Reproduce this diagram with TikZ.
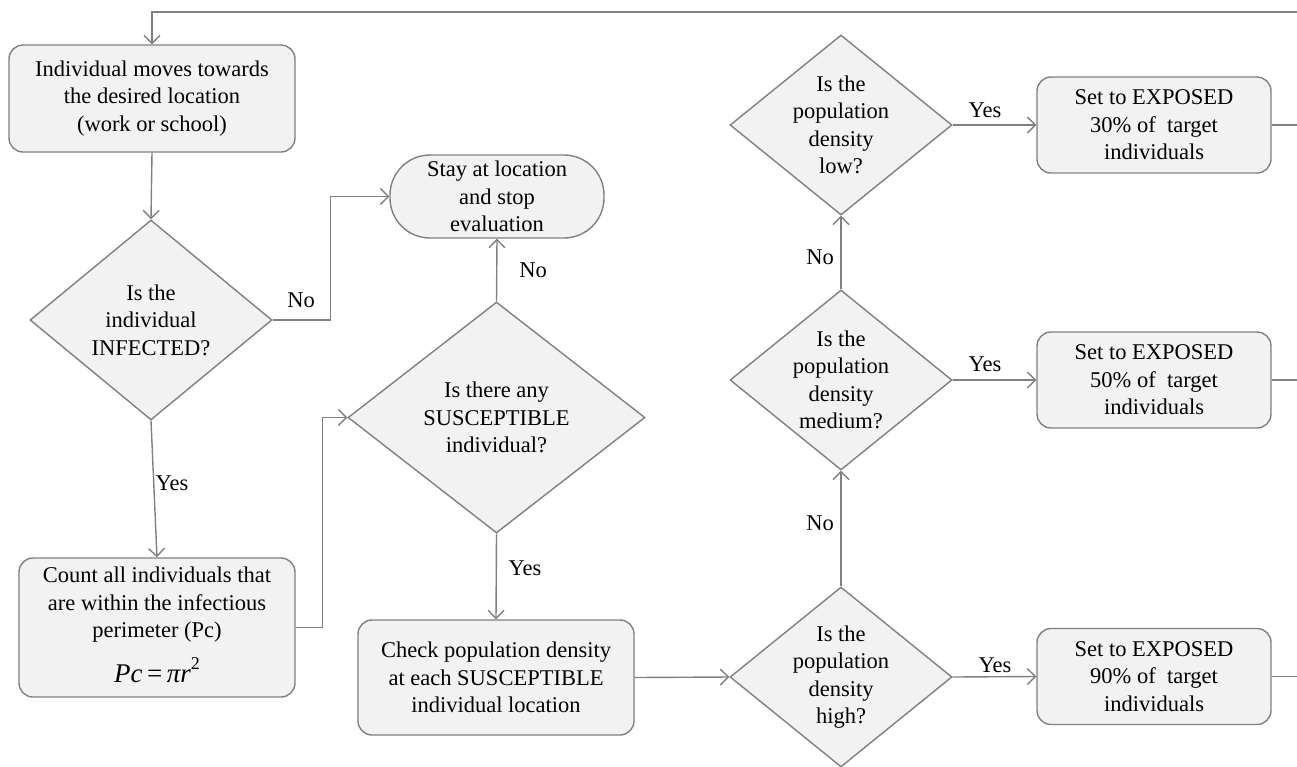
\documentclass[tikz,border=0pt]{standalone}
\usepackage{fontspec}
\setmainfont{Liberation Serif}
\usetikzlibrary{arrows.meta,shapes.geometric}
\definecolor{linec}{HTML}{808080}
\definecolor{boxfill}{HTML}{F2F2F2}
\begin{document}
\begin{tikzpicture}[x=1pt,y=-1pt,
  txtfont/.style={font=\fontsize{22.5}{27.5}\selectfont},
  procbox/.style={draw=linec, fill=boxfill, line width=1.4pt, rounded corners=14pt,
    align=center, inner sep=0pt, txtfont},
  stadium/.style={procbox, rounded corners=40pt},
  dia/.style={draw=linec, fill=boxfill, line width=1.4pt, shape=diamond, inner sep=0pt},
  diatext/.style={align=center, inner sep=0pt, txtfont},
  conn/.style={draw=linec, line width=1.4pt},
  arr/.style={conn, -{Straight Barb[length=8pt,width=16pt,line width=1.4pt]}},
  lbl/.style={txtfont, inner sep=0pt}]
\useasboundingbox (0,0) rectangle (1297,766);

% nodes
\node[procbox, minimum width=286, minimum height=107] (b1) at (152,98.5)
  {Individual moves towards\\the desired location\\(work or school)};
\node[dia, minimum width=242, minimum height=200] (d1) at (151,320) {};
\node[diatext] at (d1) {Is the\\individual\\INFECTED?};
\node[stadium, minimum width=214, minimum height=83] (stay) at (497,196.5)
  {Stay at location\\and stop\\evaluation};
\node[procbox, minimum width=276, minimum height=139] (count) at (157,627.5) {};
\node[diatext] (counttext) at (157,605)
  {Count all individuals that\\are within the infectious\\perimeter (Pc)};
\node[inner sep=0pt, font=\fontsize{27}{30}\selectfont] (formula) at (157,670)
  {\textit{Pc}\,=\,\textit{πr}\raisebox{0.5em}{\fontsize{18}{20}\selectfont 2}};
\node[dia, minimum width=297, minimum height=231] (d2) at (496.5,417.5) {};
\node[diatext] at (d2) {Is there any\\SUSCEPTIBLE\\individual?};
\node[procbox, minimum width=276, minimum height=115] (check) at (496,677.5)
  {Check population density\\at each SUSCEPTIBLE\\individual location};
\node[dia, minimum width=222, minimum height=180] (dh) at (841,677) {};
\node[diatext] at (dh) {Is the\\population\\density\\high?};
\node[dia, minimum width=222, minimum height=180] (dm) at (841,380) {};
\node[diatext] at (dm) {Is the\\population\\density\\medium?};
\node[dia, minimum width=222, minimum height=180] (dl) at (841,125) {};
\node[diatext] at (dl) {Is the\\population\\density\\low?};
\node[procbox, minimum width=234, minimum height=96] (el) at (1154,125)
  {Set to EXPOSED\\30\% of\ \ target\\individuals};
\node[procbox, minimum width=234, minimum height=96] (em) at (1154,380)
  {Set to EXPOSED\\50\% of\ \ target\\individuals};
\node[procbox, minimum width=234, minimum height=96] (eh) at (1154,676.5)
  {Set to EXPOSED\\90\% of\ \ target\\individuals};

\coordinate (loopR) at (1297,12);
\coordinate (outL) at (1297,125);
\coordinate (outM) at (1297,380);
\coordinate (outH) at (1297,676.5);

% connectors
\draw[arr] (loopR) -| (b1.north);
\draw[arr] (b1.south) -- (d1.north);
\draw[arr] (d1.east) -- ++(58,0) |- (stay.west);
\draw[arr] (d1.south) -- (count.north);
\draw[arr] (count.east) -- ++(27,0) |- (d2.west);
\draw[arr] (d2.north) -- (stay.south);
\draw[arr] (d2.south) -- (check.north);
\draw[arr] (check.east) -- (dh.west);
\draw[arr] (dh.north) -- (dm.south);
\draw[arr] (dm.north) -- (dl.south);
\draw[arr] (dl.east) -- (el.west);
\draw[arr] (dm.east) -- (em.west);
\draw[arr] (dh.east) -- (eh.west);
\draw[conn] (el.east) -- (outL);
\draw[conn] (em.east) -- (outM);
\draw[conn] (eh.east) -- (outH);

% labels
\node[lbl] (lno1) at (301,300) {No};
\node[lbl] (lyes1) at (172,483) {Yes};
\node[lbl] (lno2) at (533,270) {No};
\node[lbl] (lyes2) at (525,568) {Yes};
\node[lbl] (lno3) at (820,523) {No};
\node[lbl] (lno4) at (820,257) {No};
\node[lbl] (lyes3) at (985,110) {Yes};
\node[lbl] (lyes4) at (985,364) {Yes};
\node[lbl] (lyes5) at (995,665) {Yes};
\end{tikzpicture}
\end{document}
